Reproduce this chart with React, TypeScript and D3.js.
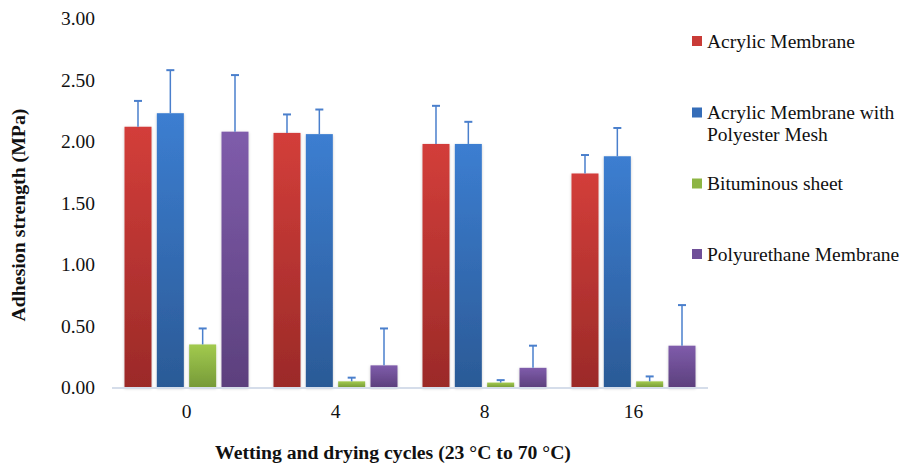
import React from "react";
import * as d3 from "d3";

const categories = ["0", "4", "8", "16"];
const seriesNames = [
  "Acrylic Membrane",
  "Acrylic Membrane with Polyester Mesh",
  "Bituminous sheet",
  "Polyurethane Membrane",
];
const acrylic = [2.12, 2.07, 1.98, 1.74];
const acrylicErrTop = [2.33, 2.22, 2.29, 1.89];
const acrylicMesh = [2.23, 2.06, 1.98, 1.88];
const acrylicMeshErrTop = [2.58, 2.26, 2.16, 2.11];
const bituminous = [0.35, 0.05, 0.04, 0.05];
const bituminousErrTop = [0.48, 0.08, 0.06, 0.09];
const polyurethane = [2.08, 0.18, 0.16, 0.34];
const polyurethaneErrTop = [2.54, 0.48, 0.34, 0.67];
const yTicks = [0, 0.5, 1, 1.5, 2, 2.5, 3];

const values = [acrylic, acrylicMesh, bituminous, polyurethane];
const errTops = [acrylicErrTop, acrylicMeshErrTop, bituminousErrTop, polyurethaneErrTop];

const gradients = [
  { id: "gRed", top: "#D33E3A", bottom: "#9B2A28", legend: "#C93B37" },
  { id: "gBlue", top: "#3C7ED1", bottom: "#2B5A96", legend: "#356DB8" },
  { id: "gGreen", top: "#A2CA4E", bottom: "#769A38", legend: "#8DB543" },
  { id: "gPurple", top: "#7F5CAB", bottom: "#5C407D", legend: "#6F4F98" },
];

const W = 902;
const H = 466;
const left = 112;
const right = 708;
const top = 18.5;
const bottom = 387.5;

const serif = '"Liberation Serif", "Times New Roman", Times, "DejaVu Serif", serif';
const txt = { fontFamily: serif };

export default function App() {
  const x0 = d3.scaleBand<string>().domain(categories).range([left, right]).padding(0);
  const x1 = d3
    .scaleBand<string>()
    .domain(seriesNames)
    .range([12.5, 136.5])
    .paddingInner(0.165)
    .paddingOuter(0);
  const y = d3.scaleLinear().domain([0, 3]).range([bottom, top]);
  const bw = x1.bandwidth();

  const legendItems = [
    { lines: ["Acrylic Membrane"], sqY: 36, baseY: 48 },
    { lines: ["Acrylic Membrane with", "Polyester Mesh"], sqY: 107.5, baseY: 119 },
    { lines: ["Bituminous sheet"], sqY: 178.5, baseY: 190 },
    { lines: ["Polyurethane Membrane"], sqY: 249, baseY: 261 },
  ];

  return (
    <svg
      width={W}
      height={H}
      style={{ position: "absolute", left: 0, top: 0, background: "#fff", fontFamily: serif }}
    >
      <defs>
        {gradients.map((g) => (
          <linearGradient key={g.id} id={g.id} x1="0" y1="0" x2="0" y2="1">
            <stop offset="0%" stopColor={g.top} />
            <stop offset="100%" stopColor={g.bottom} />
          </linearGradient>
        ))}
        <filter id="shadow" x="-30%" y="-10%" width="160%" height="120%">
          <feDropShadow dx="0" dy="1" stdDeviation="1.6" floodColor="#000" floodOpacity="0.22" />
        </filter>
      </defs>
      <rect x={0} y={0} width={W} height={H} fill="#fff" />

      {/* Y tick labels */}
      {yTicks.map((t) => (
        <text
          key={t}
          x={95}
          y={y(t) + 6.5}
          textAnchor="end"
          fontSize={19.5}
          fill="#111"
          style={txt}
        >
          {t.toFixed(2)}
        </text>
      ))}

      {/* bars */}
      {categories.map((c, ci) => (
        <g key={c} transform={`translate(${x0(c)},0)`}>
          {seriesNames.map((s, si) => {
            const v = values[si][ci];
            return (
              <rect
                key={s}
                x={x1(s)}
                y={y(v)}
                width={bw}
                height={y(0) - y(v)}
                fill={`url(#${gradients[si].id})`}
                filter="url(#shadow)"
              />
            );
          })}
        </g>
      ))}

      {/* axis line */}
      <line x1={left} x2={right} y1={bottom + 0.5} y2={bottom + 0.5} stroke="#D5DDEA" strokeWidth={2} />

      {/* error bars */}
      {categories.map((c, ci) => (
        <g key={c} transform={`translate(${x0(c)},0)`}>
          {seriesNames.map((s, si) => {
            const v = values[si][ci];
            const e = errTops[si][ci];
            const cx = (x1(s) as number) + bw / 2;
            return (
              <g key={s} stroke="#4A7FCC" strokeWidth={1.5}>
                <line x1={cx} x2={cx} y1={y(v)} y2={y(e)} />
                <line x1={cx - 4} x2={cx + 4} y1={y(e)} y2={y(e)} strokeWidth={2} />
              </g>
            );
          })}
        </g>
      ))}

      {/* x tick labels */}
      {categories.map((c) => (
        <text
          key={c}
          x={(x0(c) as number) + x0.bandwidth() / 2}
          y={418}
          textAnchor="middle"
          fontSize={19.5}
          fill="#111"
          style={txt}
        >
          {c}
        </text>
      ))}

      {/* axis titles */}
      <text
        x={393}
        y={459}
        textAnchor="middle"
        fontSize={19.7}
        fontWeight="bold"
        fill="#111"
        style={txt}
      >
        Wetting and drying cycles (23 °C to 70 °C)
      </text>
      <text
        transform="translate(25,215) rotate(-90)"
        textAnchor="middle"
        fontSize={19.8}
        fontWeight="bold"
        fill="#111"
        style={txt}
      >
        Adhesion strength (MPa)
      </text>

      {/* legend */}
      {legendItems.map((item, i) => (
        <g key={i}>
          <rect x={692} y={item.sqY} width={10} height={10} fill={gradients[i].legend} />
          <text x={707} y={item.baseY} fontSize={19.5} fill="#111" style={txt}>
            {item.lines.map((l, li) => (
              <tspan key={li} x={707} y={item.baseY + li * 22}>
                {l}
              </tspan>
            ))}
          </text>
        </g>
      ))}
    </svg>
  );
}
